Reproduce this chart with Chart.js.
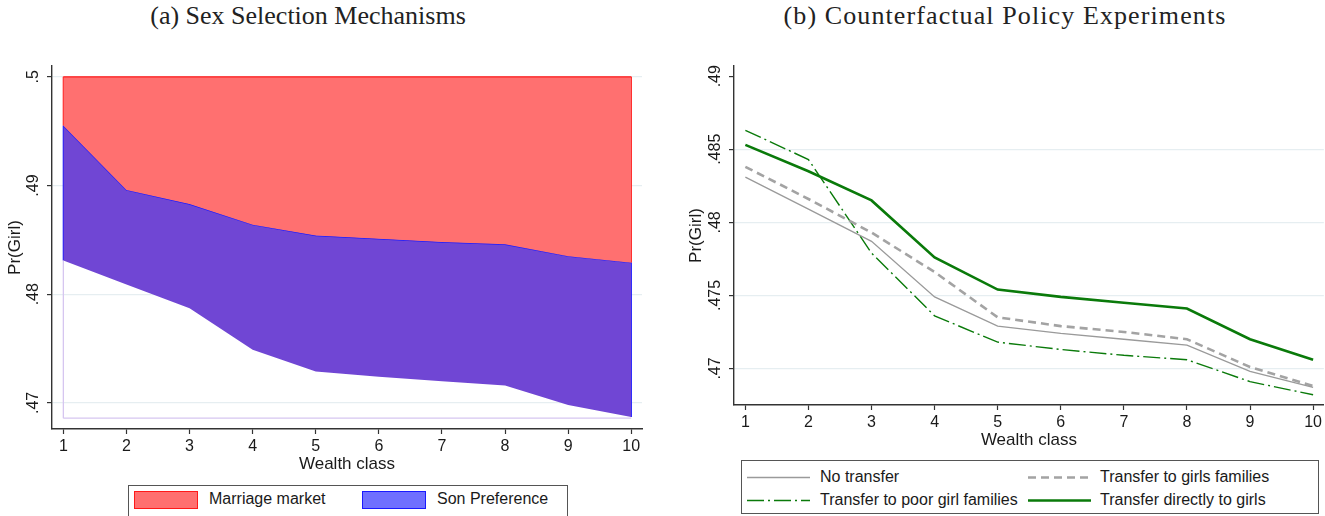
<!DOCTYPE html>
<html>
<head>
<meta charset="utf-8">
<script src="https://cdn.jsdelivr.net/npm/chart.js@4.4.1/dist/chart.umd.min.js"></script>
<style>
  body { margin: 0; background: #fff; width: 1325px; height: 516px; overflow: hidden; position: relative;
         font-family: "Liberation Sans", Arial, sans-serif; color: #1a1a1a; }
  .title { position: absolute; top: 1px; font-family: "Liberation Serif", serif; font-size: 26px;
           white-space: nowrap; transform: translateX(-50%); color: #222; }
  #cA { position: absolute; left: 0; top: 0; }
  #cB { position: absolute; left: 680px; top: 0; }
  .legend { position: absolute; border: 1px solid #555; background: #fff; font-size: 16px; box-sizing: border-box; }
  .legend span, .legend div, .legend svg { position: absolute; }
  .legend span { white-space: nowrap; line-height: 18px; }
</style>
</head>
<body>

<div class="title" style="left:308px">(a) Sex Selection Mechanisms</div>
<div class="title" style="left:1005px; letter-spacing:1.1px">(b) Counterfactual Policy Experiments</div>

<canvas id="cA" width="660" height="480"></canvas>
<canvas id="cB" width="645" height="455"></canvas>

<div class="legend" id="legA" style="left:128px; top:485px; width:440px; height:34px;"></div>
<div class="legend" id="legB" style="left:741px; top:460px; width:578px; height:54px;"></div>

<script>
// wealth classes
const wealth = [1, 2, 3, 4, 5, 6, 7, 8, 9, 10];

// panel (a): area bands
const marriageTop = [0.5, 0.5, 0.5, 0.5, 0.5, 0.5, 0.5, 0.5, 0.5, 0.5];
const sonPrefTop = [0.4955, 0.4896, 0.4883, 0.4864, 0.4854, 0.4851, 0.4848, 0.4846, 0.4835, 0.4829];
const bandFloor = 0.4686;

// panel (b): policy experiments
const noTransfer = [0.4831, 0.4809, 0.4787, 0.4749, 0.4729, 0.4724, 0.4720, 0.4716, 0.4698, 0.4687];
const toGirlsFamilies = [0.4838, 0.4816, 0.4793, 0.4766, 0.4735, 0.4729, 0.4725, 0.4720, 0.4701, 0.4688];
const toPoorGirlFamilies = [0.4863, 0.4843, 0.4779, 0.4736, 0.4718, 0.4713, 0.4709, 0.4706, 0.4691, 0.4682];
const directlyToGirls = [0.4853, 0.4835, 0.4815, 0.4776, 0.4754, 0.4749, 0.4745, 0.4741, 0.4720, 0.4706];

// tick labels
const yTicksA = [0.47, 0.48, 0.49, 0.5];
const yLabelsA = ['.47', '.48', '.49', '.5'];
const yTicksB = [0.47, 0.475, 0.48, 0.485, 0.49];
const yLabelsB = ['.47', '.475', '.48', '.485', '.49'];

const FONT = '"Liberation Sans", Arial, sans-serif';
const AXIS = '#333';
const GRID = '#e6eef1';

const pts = (xs, ys) => xs.map((x, i) => ({ x: x, y: ys[i] }));
const seg = (x, a, b) => [{ x: x, y: a }, { x: x, y: b }];
const n = wealth.length - 1;

// Stata draws the y tick labels turned by 90 degrees
const rotatedYTicks = {
  id: 'rotatedYTicks',
  afterDraw(chart, args, opts) {
    const s = chart.scales.y;
    const ctx = chart.ctx;
    ctx.save();
    ctx.font = '16px ' + FONT;
    ctx.fillStyle = '#1a1a1a';
    ctx.textAlign = 'center';
    ctx.textBaseline = 'alphabetic';
    opts.values.forEach((v, i) => {
      ctx.save();
      ctx.translate(s.right - 14, s.getPixelForValue(v));
      ctx.rotate(-Math.PI / 2);
      ctx.fillText(opts.labels[i], 0, 0);
      ctx.restore();
    });
    ctx.restore();
  }
};

function axes(yVals, yMin, yMax, yWidth, xHeight, yTitlePad, xTitlePad, hideTopGrid) {
  return {
    x: {
      type: 'linear', min: 0.82, max: 10.17,
      afterBuildTicks: s => { s.ticks = wealth.map(v => ({ value: v })); },
      afterFit: s => { s.height = xHeight; },
      ticks: { font: { family: FONT, size: 16 }, color: '#1a1a1a', padding: 3, maxRotation: 0, autoSkip: false },
      grid: { drawOnChartArea: false, drawTicks: true, tickLength: 5, tickColor: AXIS, tickWidth: 1.2 },
      border: { color: AXIS, width: 1.4 },
      title: { display: true, text: 'Wealth class', font: { family: FONT, size: 17 }, color: '#1a1a1a',
               padding: { top: 0, bottom: xTitlePad } }
    },
    y: {
      type: 'linear', min: yMin, max: yMax,
      afterBuildTicks: s => { s.ticks = yVals.map(v => ({ value: v })); },
      afterFit: s => { s.width = yWidth; },
      ticks: { display: false },
      grid: {
        color: c => (hideTopGrid && c.tick && c.tick.value === yVals[yVals.length - 1]) ? 'rgba(0,0,0,0)' : GRID,
        lineWidth: 1.2, drawTicks: true, tickLength: 5, tickColor: AXIS, tickWidth: 1.2
      },
      border: { color: AXIS, width: 1.4 },
      title: { display: true, text: 'Pr(Girl)', font: { family: FONT, size: 17 }, color: '#1a1a1a',
               padding: { top: yTitlePad, bottom: 0 } }
    }
  };
}

const base = { pointRadius: 0, tension: 0, fill: false };

new Chart(document.getElementById('cA'), {
  type: 'line',
  data: {
    datasets: [
      { ...base, label: 'Marriage market', data: pts(wealth, marriageTop), borderColor: '#ff1a1a', borderWidth: 1.3,
        fill: '+1', backgroundColor: '#ff7070' },
      { ...base, label: 'Son Preference', data: pts(wealth, sonPrefTop), borderColor: '#1a1aff', borderWidth: 1.3,
        fill: '+1', backgroundColor: '#7046d4' },
      { ...base, label: 'floor of band', data: pts(wealth, noTransfer), borderColor: 'rgba(0,0,0,0)', borderWidth: 0 },
      { ...base, label: 'outline', data: pts(wealth, wealth.map(() => bandFloor)), borderColor: '#d6c6f0', borderWidth: 1.3 },
      { ...base, label: 'edge', data: seg(1, noTransfer[0], bandFloor), borderColor: '#d6c6f0', borderWidth: 1.3 },
      { ...base, label: 'edge', data: seg(1, marriageTop[0], sonPrefTop[0]), borderColor: '#ff1a1a', borderWidth: 1.3 },
      { ...base, label: 'edge', data: seg(wealth[n], marriageTop[n], sonPrefTop[n]), borderColor: '#ff1a1a', borderWidth: 1.3 },
      { ...base, label: 'edge', data: seg(1, sonPrefTop[0], noTransfer[0]), borderColor: '#1a1aff', borderWidth: 1.3 },
      { ...base, label: 'edge', data: seg(wealth[n], sonPrefTop[n], noTransfer[n]), borderColor: '#1a1aff', borderWidth: 1.3 }
    ]
  },
  options: {
    responsive: false, animation: false,
    layout: { padding: { left: 0, top: 66, right: 18, bottom: 0 } },
    plugins: { legend: { display: false }, tooltip: { enabled: false },
               rotatedYTicks: { values: yTicksA, labels: yLabelsA } },
    scales: axes(yTicksA, 0.4676, 0.501, 52, 51, 5, 5, false)
  },
  plugins: [rotatedYTicks]
});

const seriesB = [
  { label: 'No transfer', data: noTransfer, color: '#9a9a9a', width: 1.3, dash: [] },
  { label: 'Transfer to girls families', data: toGirlsFamilies, color: '#a3a3a3', width: 2.6, dash: [8, 5] },
  { label: 'Transfer to poor girl families', data: toPoorGirlFamilies, color: '#0a7a0a', width: 1.4, dash: [17, 4, 2, 4] },
  { label: 'Transfer directly to girls', data: directlyToGirls, color: '#0a7a0a', width: 2.6, dash: [] }
];

new Chart(document.getElementById('cB'), {
  type: 'line',
  data: {
    datasets: seriesB.map(s => ({ ...base, label: s.label, data: pts(wealth, s.data), borderColor: s.color,
                                  borderWidth: s.width, borderDash: s.dash }))
  },
  options: {
    responsive: false, animation: false,
    layout: { padding: { left: 0, top: 66, right: 0, bottom: 0 } },
    plugins: { legend: { display: false }, tooltip: { enabled: false },
               rotatedYTicks: { values: yTicksB, labels: yLabelsB } },
    scales: axes(yTicksB, 0.4675, 0.4907, 54, 50, 6, 4.5, true)
  },
  plugins: [rotatedYTicks]
});

// legends, laid out like the Stata boxes
const legA = document.getElementById('legA');
[['Marriage market', '#ff7070', '#ff1a1a', 5, 80], ['Son Preference', '#7070ff', '#1a1aff', 233, 308]].forEach(([t, fill, edge, sx, tx]) => {
  legA.insertAdjacentHTML('beforeend',
    `<div style="left:${sx}px; top:5px; width:62px; height:16px; background:${fill}; border:1.5px solid ${edge};"></div>` +
    `<span style="left:${tx}px; top:4px;">${t}</span>`);
});

const legB = document.getElementById('legB');
const slots = [[5, 78, 7], [286, 358, 7], [5, 78, 30], [286, 358, 30]];
seriesB.forEach((s, i) => {
  const [lx, tx, ty] = slots[i];
  legB.insertAdjacentHTML('beforeend',
    `<svg style="left:${lx}px; top:${ty}px;" width="64" height="18"><line x1="0" y1="9.5" x2="63" y2="9.5" stroke="${s.color}" stroke-width="${s.width}" stroke-dasharray="${s.dash.length ? s.dash.join(',') : 'none'}"/></svg>` +
    `<span style="left:${tx}px; top:${ty}px;">${s.label}</span>`);
});
</script>
</body>
</html>
